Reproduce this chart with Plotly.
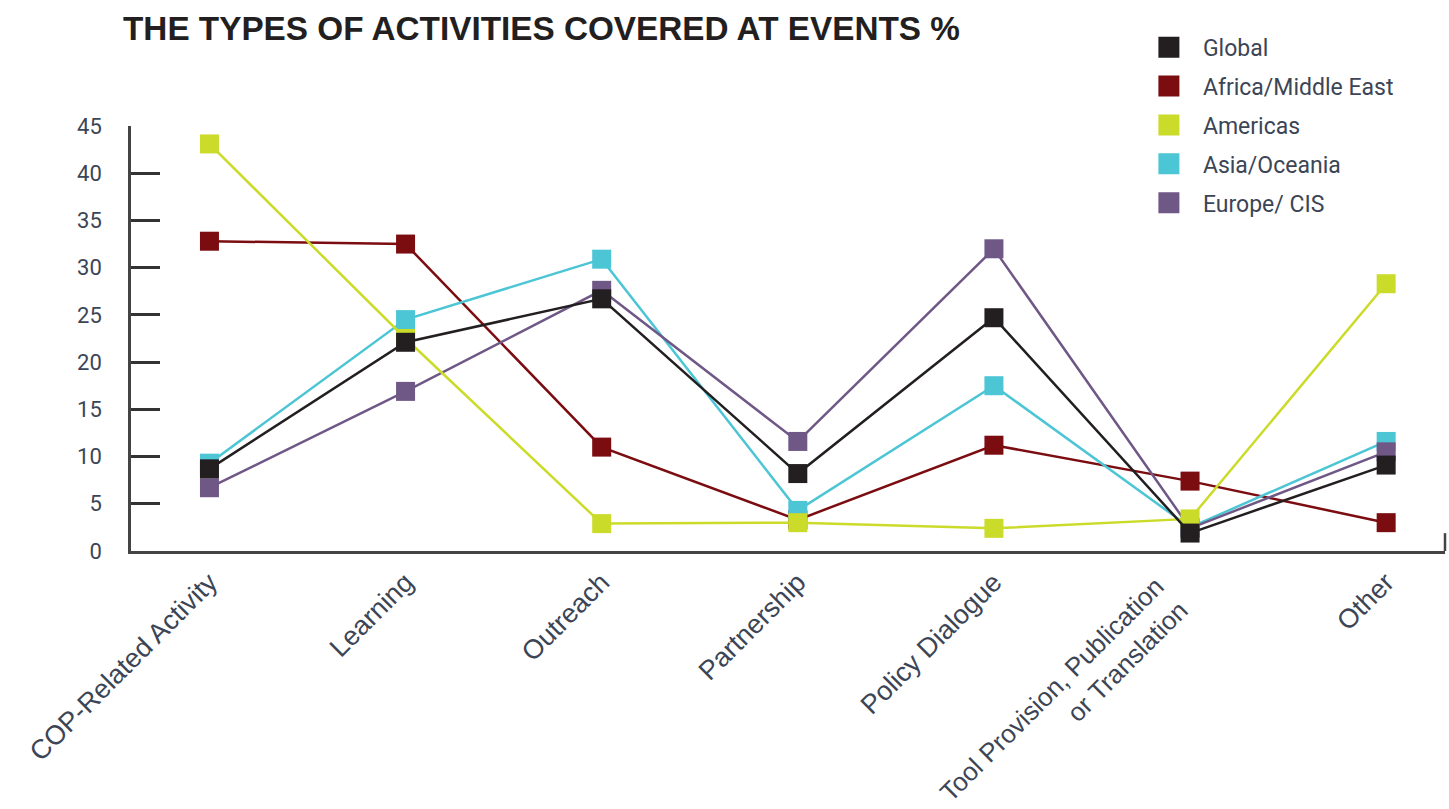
import plotly.graph_objects as go

categories = ["COP-Related Activity", "Learning", "Outreach", "Partnership",
              "Policy Dialogue", "Tool Provision", "Other"]
tick_labels = ["COP-Related Activity", "Learning", "Outreach", "Partnership",
               "Policy Dialogue", "", "Other"]
tool_label = "Tool Provision, Publication<br>or Translation"

global_vals   = [8.7, 22.1, 26.7, 8.2, 24.7, 1.9, 9.1]
africa_vals   = [32.8, 32.5, 11.0, 3.3, 11.2, 7.4, 3.0]
americas_vals = [43.1, 22.5, 2.9, 3.0, 2.4, 3.4, 28.3]
asia_vals     = [9.3, 24.5, 30.9, 4.3, 17.5, 2.5, 11.6]
europe_vals   = [6.7, 16.9, 27.6, 11.6, 32.0, 2.4, 10.5]

y_ticks = [0, 5, 10, 15, 20, 25, 30, 35, 40, 45]

series = [
    # name, values, color, legend rank  (drawing order bottom -> top)
    ("Africa/Middle East", africa_vals, "#7b0c10", 2),
    ("Asia/Oceania", asia_vals, "#4cc5d5", 4),
    ("Europe/ CIS", europe_vals, "#6f5886", 5),
    ("Americas", americas_vals, "#cbdb2a", 3),
    ("Global", global_vals, "#231f20", 1),
]

label_font = dict(family="Liberation Sans, Arial", size=27, color="#3c4555")

fig = go.Figure()
for name, vals, color, rank in series:
    fig.add_trace(go.Scatter(
        x=categories, y=vals, mode="lines+markers", name=name,
        line=dict(color=color, width=2.5),
        marker=dict(symbol="square", size=19, color=color),
        showlegend=False, cliponaxis=False, hoverinfo="x+y+name",
    ))
    # legend entry
    fig.add_trace(go.Scatter(
        x=[None], y=[None], mode="markers", name=name,
        marker=dict(symbol="square", size=16, color=color,
                    line=dict(color=color, width=5)),
        legendrank=rank, legendgroup=name, showlegend=True,
    ))

fig.update_layout(
    width=1449, height=809,
    margin=dict(l=131, r=4, t=126, b=258, autoexpand=False),
    paper_bgcolor="white", plot_bgcolor="white",
    title=dict(text="<b>THE TYPES OF ACTIVITIES COVERED AT EVENTS %</b>",
               x=123 / 1449, xanchor="left", y=1 - 28 / 809, yanchor="middle",
               font=dict(family="Liberation Sans, Arial", size=33.3, color="#231f20")),
    legend=dict(x=0.764, y=1.236, xanchor="left", yanchor="top",
                font=dict(family="Roboto", size=23, color="#3c4555"),
                itemwidth=58,
                tracegroupgap=6, bgcolor="rgba(0,0,0,0)"),
    showlegend=True,
)

fig.update_xaxes(
    type="category", range=[-0.4, 6.3], automargin=False,
    tickvals=categories, ticktext=tick_labels,
    showline=True, linecolor="#444", linewidth=2.5,
    ticks="", showgrid=False, zeroline=False,
    tickangle=-45, ticklabelstandoff=2,
    tickfont=label_font,
)
fig.update_yaxes(
    range=[0, 45], tickvals=y_ticks, ticktext=[str(v) for v in y_ticks],
    automargin=False,
    showline=True, linecolor="#444", linewidth=2.5,
    ticks="inside", ticklen=29, tickwidth=2.5, tickcolor="#333",
    showgrid=False, zeroline=False, ticklabelstandoff=22,
    tickfont=dict(family="Roboto", size=22, color="#3c4555"),
)

# two-line category label placed like the reference
fig.add_annotation(
    x=categories[5], xref="x", y=0, yref="paper",
    text=tool_label, textangle=-45, showarrow=False,
    xanchor="right", yanchor="top", align="right",
    xshift=7, yshift=-17,
    font=dict(family="Liberation Sans, Arial", size=26, color="#3c4555"),
)

# small vertical end tick at the right end of the x axis
fig.add_shape(type="line", xref="paper", yref="paper",
              x0=1, x1=1, y0=0, y1=0.042,
              line=dict(color="#444", width=2.5))

fig.write_html("out.html", config={"displayModeBar": False},
               post_script="document.body.style.margin='0';")
